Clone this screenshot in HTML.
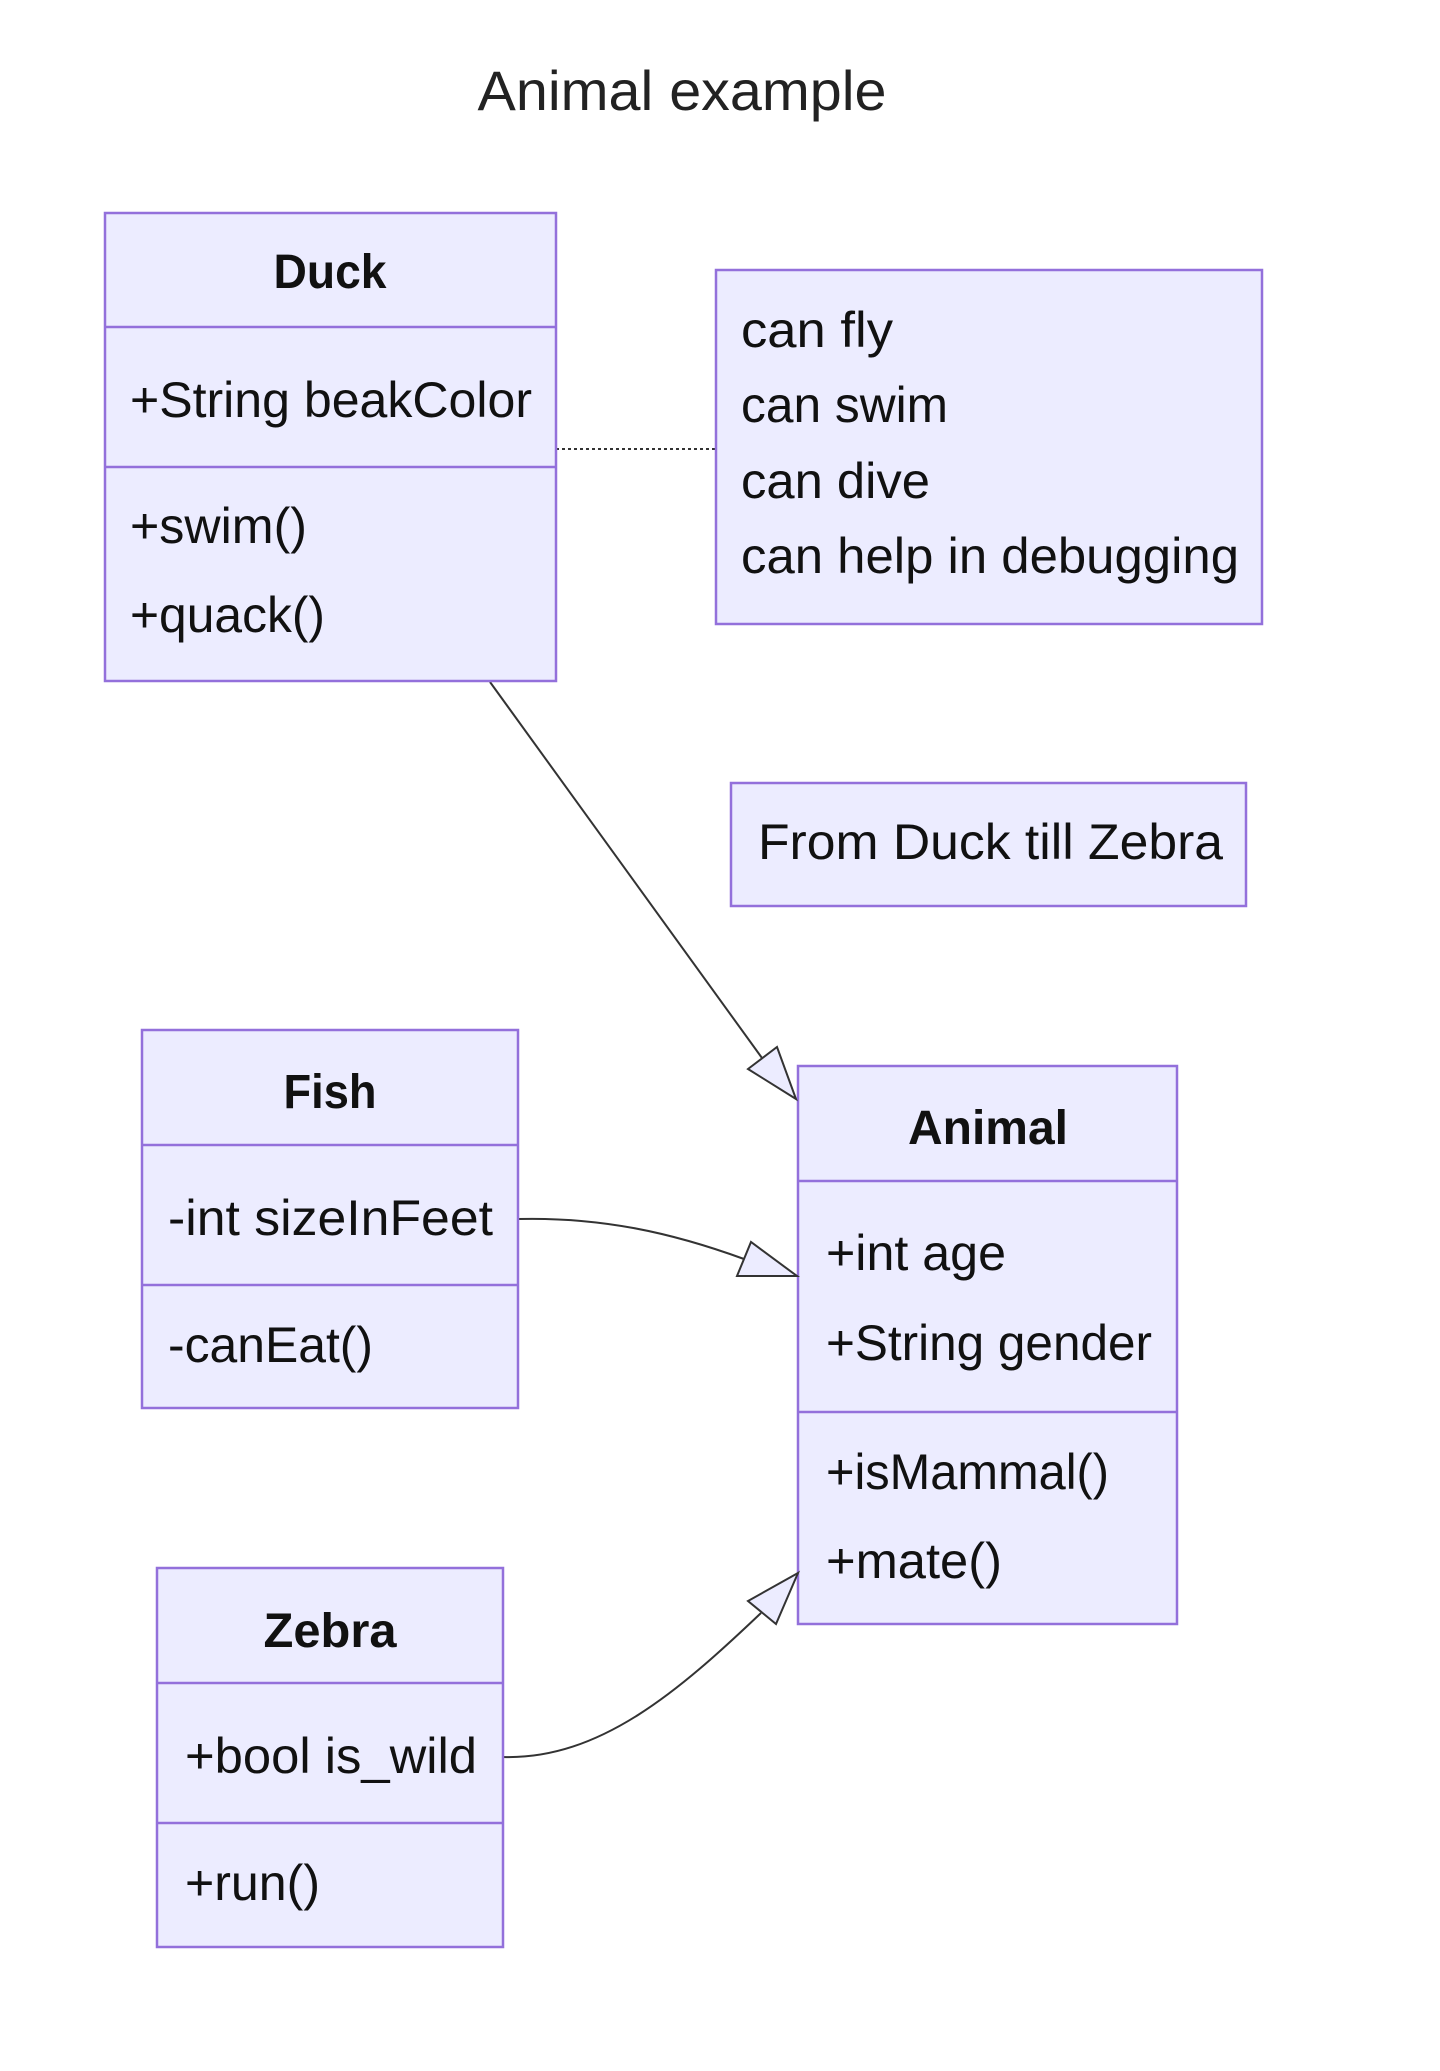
<!DOCTYPE html>
<html>
<head>
<meta charset="utf-8">
<style>
  html, body { margin: 0; padding: 0; background: #ffffff; }
  body { width: 1440px; height: 2071px; overflow: hidden; }
  svg { display: block; }
  .box { fill: #ECECFF; stroke: #9370DB; stroke-width: 2.5; }
  .div { stroke: #9370DB; stroke-width: 2.5; }
  .t { font-family: "Liberation Sans", "DejaVu Sans", sans-serif; font-size: 50px; fill: #111; }
  .h { font-family: "Liberation Sans", "DejaVu Sans", sans-serif; font-size: 48px; font-weight: bold; fill: #111; }
  .edge { fill: none; stroke: #333; stroke-width: 2; }
  .arrow { fill: #ECECFF; stroke: #333; stroke-width: 2; stroke-linejoin: miter; }
</style>
</head>
<body>
<svg width="1440" height="2071" viewBox="0 0 1440 2071" xmlns="http://www.w3.org/2000/svg">
  <!-- Title -->
  <text x="682" y="110" text-anchor="middle" font-family="Liberation Sans, DejaVu Sans, sans-serif" font-size="56" fill="#222" textLength="409" lengthAdjust="spacingAndGlyphs">Animal example</text>

  <!-- Edges -->
  <path class="edge" d="M490,682 L762,1058"/>
  <path class="edge" d="M518,1219 C600,1217 670,1232 744,1259"/>
  <path class="edge" d="M503,1757 C600,1760 680,1690 761,1613"/>
  <line x1="556" y1="449" x2="716" y2="449" stroke="#333" stroke-width="2" stroke-dasharray="3,3"/>

  <!-- Duck -->
  <rect class="box" x="105" y="213" width="451" height="468"/>
  <line class="div" x1="105" y1="327" x2="556" y2="327"/>
  <line class="div" x1="105" y1="467" x2="556" y2="467"/>
  <text class="h" x="330" y="288" text-anchor="middle" textLength="113" lengthAdjust="spacingAndGlyphs">Duck</text>
  <text class="t" x="130" y="417" textLength="402" lengthAdjust="spacingAndGlyphs">+String beakColor</text>
  <text class="t" x="130" y="543" textLength="177" lengthAdjust="spacingAndGlyphs">+swim()</text>
  <text class="t" x="130" y="632" textLength="195" lengthAdjust="spacingAndGlyphs">+quack()</text>

  <!-- Note -->
  <rect class="box" x="716" y="270" width="546" height="354"/>
  <text class="t" x="741" y="347" textLength="152" lengthAdjust="spacingAndGlyphs">can fly</text>
  <text class="t" x="741" y="422" textLength="207" lengthAdjust="spacingAndGlyphs">can swim</text>
  <text class="t" x="741" y="498" textLength="189" lengthAdjust="spacingAndGlyphs">can dive</text>
  <text class="t" x="741" y="573" textLength="498" lengthAdjust="spacingAndGlyphs">can help in debugging</text>

  <!-- From Duck till Zebra -->
  <rect class="box" x="731" y="783" width="515" height="123"/>
  <text class="t" x="758" y="859" textLength="465" lengthAdjust="spacingAndGlyphs">From Duck till Zebra</text>

  <!-- Fish -->
  <rect class="box" x="142" y="1030" width="376" height="378"/>
  <line class="div" x1="142" y1="1145" x2="518" y2="1145"/>
  <line class="div" x1="142" y1="1285" x2="518" y2="1285"/>
  <text class="h" x="330" y="1108" text-anchor="middle" textLength="93" lengthAdjust="spacingAndGlyphs">Fish</text>
  <text class="t" x="168" y="1235" textLength="325" lengthAdjust="spacingAndGlyphs">-int sizeInFeet</text>
  <text class="t" x="168" y="1362" textLength="205" lengthAdjust="spacingAndGlyphs">-canEat()</text>

  <!-- Animal -->
  <rect class="box" x="798" y="1066" width="379" height="558"/>
  <line class="div" x1="798" y1="1181" x2="1177" y2="1181"/>
  <line class="div" x1="798" y1="1412" x2="1177" y2="1412"/>
  <text class="h" x="988" y="1144" text-anchor="middle" textLength="160" lengthAdjust="spacingAndGlyphs">Animal</text>
  <text class="t" x="826" y="1270" textLength="180" lengthAdjust="spacingAndGlyphs">+int age</text>
  <text class="t" x="826" y="1360" textLength="326" lengthAdjust="spacingAndGlyphs">+String gender</text>
  <text class="t" x="826" y="1489" textLength="283" lengthAdjust="spacingAndGlyphs">+isMammal()</text>
  <text class="t" x="826" y="1578" textLength="176" lengthAdjust="spacingAndGlyphs">+mate()</text>

  <!-- Zebra -->
  <rect class="box" x="157" y="1568" width="346" height="379"/>
  <line class="div" x1="157" y1="1683" x2="503" y2="1683"/>
  <line class="div" x1="157" y1="1823" x2="503" y2="1823"/>
  <text class="h" x="330" y="1647" text-anchor="middle" textLength="133" lengthAdjust="spacingAndGlyphs">Zebra</text>
  <text class="t" x="185" y="1773" textLength="292" lengthAdjust="spacingAndGlyphs">+bool is_wild</text>
  <text class="t" x="185" y="1900" textLength="135" lengthAdjust="spacingAndGlyphs">+run()</text>

  <!-- Arrowheads (extension triangles) -->
  <polygon class="arrow" points="796,1099 748,1069 777,1047"/>
  <polygon class="arrow" points="797,1276 737,1276 751,1242"/>
  <polygon class="arrow" points="798,1573 748,1601 776,1624"/>
</svg>
</body>
</html>
